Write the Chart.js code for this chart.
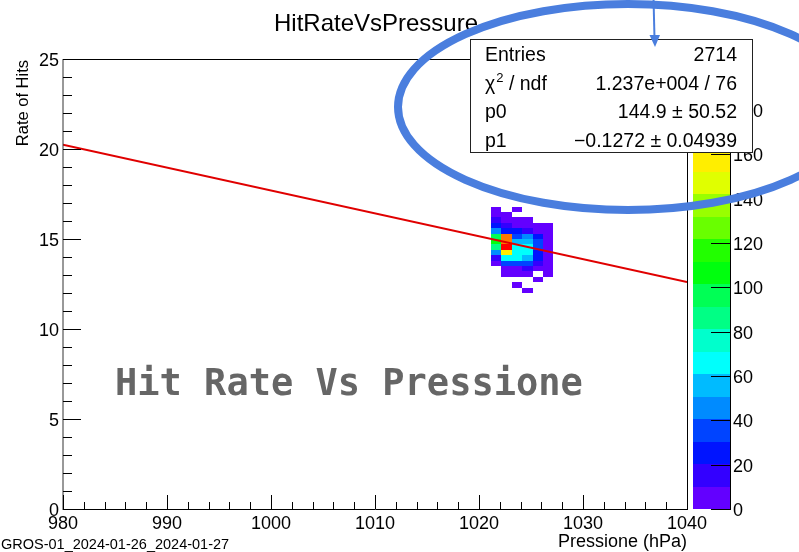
<!DOCTYPE html>
<html>
<head>
<meta charset="utf-8">
<script src="https://cdn.jsdelivr.net/npm/chart.js@4.4.1/dist/chart.umd.min.js"></script>
<style>
  html, body { margin: 0; padding: 0; background: #ffffff; }
  canvas { display: block; }
</style>
</head>
<body>
<canvas id="chart" width="799" height="552"></canvas>
<script>
// ---- data ---------------------------------------------------------------
// Pressure bins (lower edge, hPa) and their width
const pressureEdges = [1021.15, 1022.15, 1023.15, 1024.15, 1025.15, 1026.15];
const pressureBinWidth = 1.0;

// Rate bins (lower edge, hits), listed from the top row down
const rateEdges = [16.5, 16.2, 15.9, 15.6, 15.3, 15.0, 14.7, 14.4, 14.1, 13.8, 13.5, 13.2, 12.9, 12.6, 12.3, 12.0];
const rateBinHeight = 0.3;

// Entries per cell: one row per rate bin (top to bottom), one column per pressure bin
const counts = [
  [  5,   0,   4,   0,   0,  0],
  [  7,   6,   0,   0,   0,  0],
  [ 15,   9,   7,   5,   0,  0],
  [ 28,  12,  10,   8,   5,  4],
  [ 45,  22,  25,  12,   9,  6],
  [ 92, 176,  38,  44,  24,  7],
  [108, 178,  55,  58,  32,  8],
  [ 82, 203,  66,  66,  34,  9],
  [ 45, 155,  68,  63,  28,  8],
  [ 15,  65,  64,  56,  22,  7],
  [  5,  35,  35,  35,  14,  6],
  [  0,   8,   8,  12,   7,  5],
  [  0,   6,   6,   6,   0,  4],
  [  0,   0,   0,   0,   3,  0],
  [  0,   0,   3,   0,   0,  0],
  [  0,   0,   0,   3,   0,  0]
];

// Linear fit result: rate = p0 + p1 * pressure
const fitP0 = 144.9;
const fitP1 = -0.1272;

// Statistics box rows
const statNames  = ['Entries', 'χ2 / ndf', 'p0', 'p1'];
const statValues = ['2714', '1.237e+004 / 76', '144.9 \u00b1 50.52', '\u22120.1272 \u00b1 0.04939'];

// Axis ranges and steps
const pressureRange = [980, 1040];
const rateRange = [0, 25];
const countStep = 20;

// 20-level rainbow palette (violet -> red)
const palette = ['#6300ff', '#3300ff', '#0014ff', '#0044ff', '#008bff', '#00bbff', '#00fffc', '#00ffcc', '#00ff85', '#00ff55',
                 '#00ff0e', '#22ff00', '#69ff00', '#99ff00', '#e0ff00', '#ffee00', '#ffa700', '#ff7700', '#ff3000', '#ff0000'];

const zMax = Math.max(...counts.flat());
const nLevels = palette.length;

function levelOf(v) {
  return Math.min(nLevels - 1, Math.floor(0.01 + v * nLevels / zMax));
}

const fitLine = [
  { x: pressureRange[0], y: fitP0 + fitP1 * pressureRange[0] },
  { x: pressureRange[1], y: fitP0 + fitP1 * pressureRange[1] }
];

// ---- drawing helpers ----------------------------------------------------
const SANS = '"Liberation Sans", Arial, Helvetica, sans-serif';

function text(ctx, s, x, y, size, align, base, color, weight, family) {
  ctx.save();
  ctx.font = (weight || 'normal') + ' ' + size + 'px ' + (family || SANS);
  ctx.fillStyle = color || '#000';
  ctx.textAlign = align || 'left';
  ctx.textBaseline = base || 'alphabetic';
  ctx.fillText(s, x, y);
  ctx.restore();
}

function hline(ctx, x0, x1, y) { ctx.beginPath(); ctx.moveTo(x0, y); ctx.lineTo(x1, y); ctx.stroke(); }
function vline(ctx, x, y0, y1) { ctx.beginPath(); ctx.moveTo(x, y0); ctx.lineTo(x, y1); ctx.stroke(); }

// Heat-map cells, drawn under the fit line
const heatmapPlugin = {
  id: 'heatmap',
  beforeDatasetsDraw(chart) {
    const ctx = chart.ctx;
    const xs = chart.scales.x, ys = chart.scales.y;
    ctx.save();
    counts.forEach((row, r) => {
      row.forEach((v, c) => {
        if (v <= 0) return;
        const x0 = Math.round(xs.getPixelForValue(pressureEdges[c]));
        const x1 = Math.round(xs.getPixelForValue(pressureEdges[c] + pressureBinWidth));
        const y0 = Math.round(ys.getPixelForValue(rateEdges[r] + rateBinHeight));
        const y1 = Math.round(ys.getPixelForValue(rateEdges[r]));
        ctx.fillStyle = palette[levelOf(v)];
        ctx.fillRect(x0, y0, x1 - x0, y1 - y0);
      });
    });
    ctx.restore();
  }
};

// Frame, axes, palette bar, titles and the stats box
const decorPlugin = {
  id: 'decor',
  afterDraw(chart) {
    const ctx = chart.ctx;
    const a = chart.chartArea;
    const xs = chart.scales.x, ys = chart.scales.y, zs = chart.scales.z;

    ctx.save();
    ctx.strokeStyle = '#000';
    ctx.lineWidth = 1;

    // frame
    hline(ctx, a.left, a.right, a.top + 0.5);
    vline(ctx, a.right + 0.5, a.top, a.bottom);
    hline(ctx, a.left, a.right + 1, a.bottom + 0.5);
    ctx.strokeStyle = '#333';
    vline(ctx, a.left, a.top, a.bottom + 1);
    ctx.strokeStyle = '#000';

    // y axis ticks (major + minor, pointing inward)
    const yMajor = ys.ticks.map(t => t.value);
    for (let v = rateRange[0]; v <= rateRange[1]; v += 1) {
      const py = Math.round(ys.getPixelForValue(v)) + 0.5;
      const major = yMajor.includes(v);
      hline(ctx, a.left, a.left + (major ? 18 : 9), py);
    }
    yMajor.forEach(v => {
      const py = ys.getPixelForValue(v);
      text(ctx, String(v), a.left - 4, py + 6.5, 18, 'right');
    });

    // x axis ticks
    const xMajor = xs.ticks.map(t => t.value);
    for (let v = pressureRange[0]; v <= pressureRange[1]; v += 2) {
      const px = Math.round(xs.getPixelForValue(v)) + 0.5;
      const major = xMajor.includes(v);
      vline(ctx, px, a.bottom, a.bottom - (major ? 14 : 7));
    }
    xMajor.forEach(v => {
      const px = xs.getPixelForValue(v);
      text(ctx, String(v), px, a.bottom + 20, 18, 'center');
    });

    // palette bar
    const barL = a.right + 6, barR = a.right + 43;
    for (let k = 0; k < nLevels; k++) {
      const yTop = Math.round(zs.getPixelForValue((k + 1) * zMax / nLevels));
      const yBot = Math.round(zs.getPixelForValue(k * zMax / nLevels));
      ctx.fillStyle = palette[k];
      ctx.fillRect(barL, yTop, barR - barL, yBot - yTop);
    }
    ctx.strokeStyle = '#000';
    vline(ctx, barR + 0.5, a.top, a.bottom + 1);
    zs.ticks.map(t => t.value).filter(v => v % countStep === 0).forEach(v => {
      const py = Math.round(zs.getPixelForValue(v)) + 0.5;
      hline(ctx, barR - 19, barR + 1, py);
      text(ctx, String(v), barR + 3, py + 6, 18, 'left');
    });

    // titles
    text(ctx, 'HitRateVsPressure', 376, 31, 24, 'center');
    text(ctx, 'Pressione (hPa)', a.right, 547, 18, 'right');
    text(ctx, 'GROS-01_2024-01-26_2024-01-27', 1, 549, 14.5, 'left');
    ctx.save();
    ctx.translate(27.5, a.top + 1);
    ctx.rotate(-Math.PI / 2);
    text(ctx, 'Rate of Hits', 0, 0, 16.5, 'right');
    ctx.restore();

    // stats box
    const bx = 470.5, by = 39.5, bw = 282, bh = 113;
    ctx.fillStyle = '#fff';
    ctx.fillRect(bx, by, bw, bh);
    ctx.strokeStyle = '#222';
    ctx.strokeRect(bx, by, bw, bh);
    const rowBase = [61, 89.5, 118, 146.5];
    const nameX = 485, valX = 737;
    statNames.forEach((name, i) => {
      if (name.startsWith('χ2')) {
        ctx.save();
        ctx.font = '19.5px ' + SANS;
        const wChi = ctx.measureText('χ').width;
        ctx.font = '13px ' + SANS;
        const wTwo = ctx.measureText('2').width;
        ctx.restore();
        text(ctx, 'χ', nameX, rowBase[i], 19.5, 'left');
        text(ctx, '2', nameX + wChi + 1, rowBase[i] - 8, 13, 'left');
        text(ctx, name.slice(2), nameX + wChi + wTwo + 1, rowBase[i], 19.5, 'left');
      } else {
        text(ctx, name, nameX, rowBase[i], 19.5, 'left');
      }
      text(ctx, statValues[i], valX, rowBase[i], 19.5, 'right');
    });

    // caption
    text(ctx, 'Hit Rate Vs Pressione', 115, 395, 37, 'left', 'alphabetic', '#666', 'bold', '"DejaVu Sans Mono", monospace');

    // highlight ring and pointer
    const blue = 'rgb(74,126,222)';
    ctx.strokeStyle = blue;
    ctx.lineWidth = 8;
    ctx.beginPath();
    ctx.ellipse(628, 107, 230, 103, 0, 0, Math.PI * 2);
    ctx.stroke();
    ctx.lineWidth = 2;
    ctx.beginPath();
    ctx.moveTo(653.5, -2);
    ctx.lineTo(654.5, 38);
    ctx.stroke();
    ctx.fillStyle = blue;
    ctx.beginPath();
    ctx.moveTo(655, 47);
    ctx.lineTo(649.5, 35);
    ctx.lineTo(660, 35);
    ctx.closePath();
    ctx.fill();

    ctx.restore();
  }
};

new Chart(document.getElementById('chart'), {
  type: 'scatter',
  data: {
    datasets: [{
      data: fitLine,
      showLine: true,
      borderColor: '#e00000',
      borderWidth: 2,
      pointRadius: 0,
      fill: false
    }]
  },
  options: {
    responsive: false,
    animation: false,
    devicePixelRatio: 1,
    events: [],
    layout: { padding: { left: 63, right: 112, top: 59, bottom: 43 } },
    plugins: { legend: { display: false }, tooltip: { enabled: false }, title: { display: false } },
    scales: {
      x: { type: 'linear', min: pressureRange[0], max: pressureRange[1], display: false, ticks: { stepSize: 10 } },
      y: { type: 'linear', min: rateRange[0], max: rateRange[1], display: false, ticks: { stepSize: 5 } },
      z: { type: 'linear', axis: 'y', position: 'right', min: 0, max: zMax, display: false, ticks: { stepSize: countStep } }
    }
  },
  plugins: [heatmapPlugin, decorPlugin]
});
</script>
</body>
</html>
